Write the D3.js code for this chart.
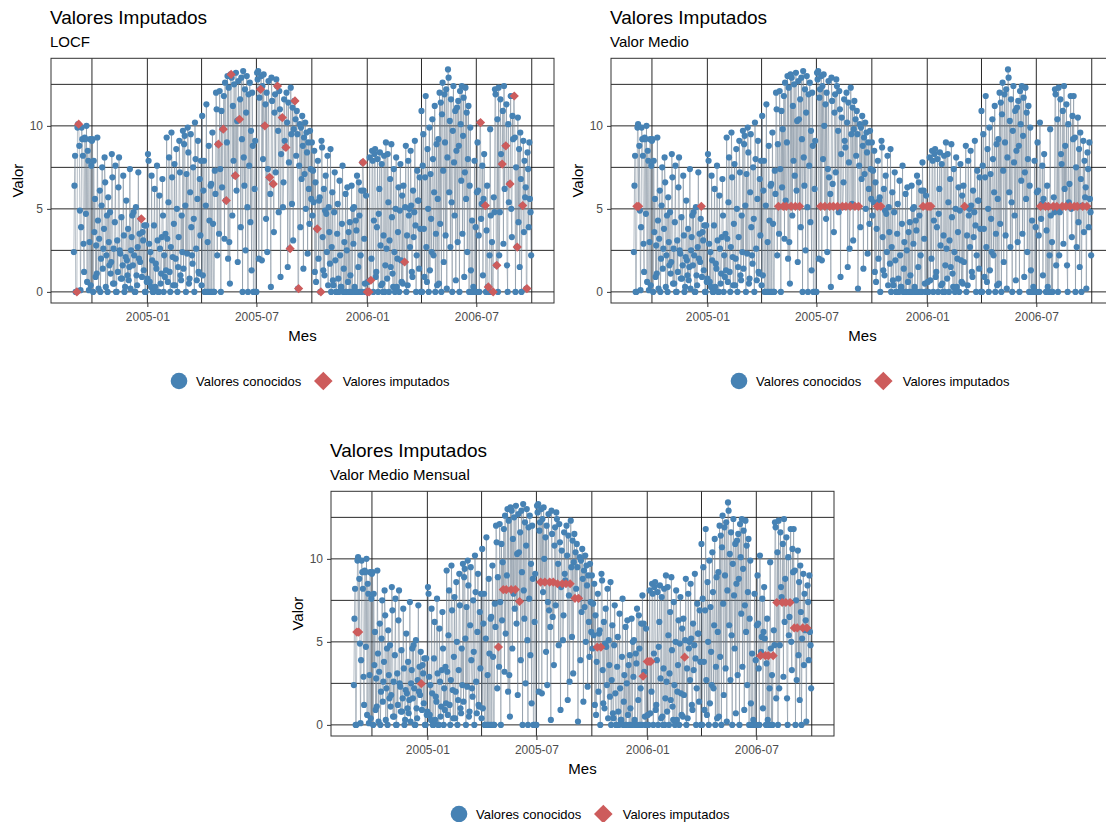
<!DOCTYPE html>
<html>
<head>
<meta charset="utf-8">
<script src="https://cdn.jsdelivr.net/npm/d3@7"></script>
<style>
  body { margin: 0; background: #fff; }
  svg { font-family: "Liberation Sans", Arial, sans-serif; }
</style>
</head>
<body>
<div id="chart"></div>
<script>
// serie diaria con huecos (null = valor faltante)
const fechaInicio = '2004-09-01'

const valores2004 = [
  // sep
  2.4, 6.4, 8.2, 0.0, 0.0, null, 9.9, 10.1, null, 8.8, 4.9, 0.1, 3.9, 9.9, 9.2, 8.2, 2.9, 1.2, 9.3, 9.2, 4.7, 10.0, 0.6, 8.5, 7.9, 0.1, 3.0, 9.2, 0.4, 7.6,
  // oct
  9.1, 9.2, 0.0, 7.9, 3.6, 5.6, 0.9, 2.8, 1.1, 9.3, 4.3, 0.2, 3.2, 6.1, 0.0, 2.0, 5.2, 7.5, 1.4, 2.6, 3.8, 8.1, 6.6, 0.3, 2.2, 4.6, 0.0, 5.7, 3.0, 1.6, 4.8,
  // nov
  1.1, 1.8, 8.3, 6.9, 0.5, 2.6, 0.5, 4.2, 7.6, 0.0, 0.0, 3.1, 1.2, 6.3, 8.1, 2.5, 2.3, 0.8, 4.5, 0.8, 1.6, 7.0, 3.4, 0.0, 0.3, 2.1, 5.5, 1.9, 1.0, 3.8,
  // dic
  0.7, 1.5, 7.4, 0.2, 2.5, 3.3, 4.6, 1.6, 4.8, 2.2, 0.0, 0.0, 5.1, 1.0, 0.4, 2.7, 7.2, 2.0, 3.5, 1.8, 4.4, null, 0.9, 3.6, 3.1, 1.3, 4.0, 0.0, 0.0, 4.0, 0.6
]

const valores2005 = [
  // ene
  0.8, 8.3, 7.9, 2.9, 0.6, 2.4, 0.3, 7.0, 1.9, 0.0, 0.0, 4.0, 6.2, 0.3, 1.7, 1.4, 7.6, 3.1, 0.0, 0.0, 5.8, 2.6, 0.5, 1.1, 3.3, 6.8, 4.6, 0.0, 2.2, 0.9, 3.5,
  // feb
  1.3, 9.3, 3.2, 0.6, 5.4, 8.1, 1.2, 0.0, 2.7, 9.6, 6.9, 2.1, 0.4, 4.1, 7.7, 0.4, 2.0, 8.6, 5.0, 0.0, 1.5, 3.3, 9.1, 7.2, 1.0, 0.7, 4.6, 2.4,
  // mar
  9.7, 1.4, 8.9, 9.4, 5.2, 0.0, 7.1, 2.3, 9.9, 8.4, 0.5, 0.8, 6.0, 9.5, 3.9, 2.2, 1.7, 7.5, 4.4, 0.0, 10.2, 8.0, 2.6, 0.7, 5.6, 9.1, 1.2, 1.1, 6.8, 3.4, 7.9,
  // abr
  0.4, 10.6, 1.0, 6.1, 7.9, 0.0, 0.0, 5.2, 11.3, 0.0, 3.0, 0.0, 8.8, 4.3, 0.0, 6.4, 6.5, 0.0, 9.6, 4.1, 0.0, 0.0, 7.3, 5.9, 12.0, 11.0, 2.2, 8.9, null, 3.5,
  // may
  12.1, 7.4, 0.0, 10.9, 6.3, 9.8, null, 11.8, 3.2, 12.6, 5.5, null, 9.0, 13.0, 2.0, 12.3, 3.0, 0.5, 13.1, null, 12.9, 4.6, 11.2, 7.9, 12.5, 7.0, null, 13.2, 6.1, 10.3, 1.8,
  // jun
  12.7, 10.4, null, 11.6, 3.9, 12.9, 9.2, 0.0, 13.3, 8.1, 6.4, 12.2, 2.5, 10.8, 13.0, 5.1, 0.0, 11.9, 7.6, 12.6, 4.2, 9.7, 1.3, 12.0, 8.8, 0.0, 0.0, 6.2, 9.1, 0.0,
  // jul
  0.0, 13.2, 12.8, 13.3, 2.0, 11.7, 12.2, null, 13.0, 1.9, 12.4, 8.0, 13.1, 10.0, null, 11.3, 4.4, 12.0, 2.4, 7.4, 12.7, 6.9, null, 5.9, 0.3, 12.9, 11.5, 6.5, null, 3.6, 10.8,
  // ago
  11.9, 7.2, 12.8, 12.4, null, 9.7, 4.8, 12.1, 11.0, 0.9, 8.3, 10.5, null, 5.1, 6.6, 11.6, 9.1, 8.7, null, 12.0, 10.2, 1.5, 11.4, 7.8, 2.6, null, 12.3, 9.5, 5.3, 11.1, 3.1,
  // sep
  9.8, 11.5, null, 10.4, 8.2, 10.9, 9.5, 0.2, null, 7.6, 10.1, 3.9, 9.9, 6.8, 10.6, 8.8, 1.4, 9.3, 7.1, 10.2, 5.0, 9.6, 8.4, 2.3, 9.0, 6.2, 4.1, 9.7, 7.4, 5.6,
  // oct
  9.0, 4.6, 7.3, 5.4, 8.5, 1.2, 6.6, 0.6, 3.8, null, 7.9, 2.0, 5.5, 5.7, 0.0, null, 9.1, 8.7, 3.3, 1.3, 6.2, 1.0, 4.9, 7.0, 4.7, 2.4, 8.2, 0.4, 5.1, 3.6, 1.7,
  // nov
  8.6, 0.0, 2.7, 6.0, 0.7, 0.4, 4.8, 7.2, 1.9, 0.0, 0.0, 3.5, 5.3, 0.8, 0.0, 6.7, 2.2, 0.3, 0.3, 4.1, 7.6, 0.0, 1.4, 3.0, 0.0, 5.9, 0.0, 2.5, 6.3, 0.6,
  // dic
  3.6, 0.0, 4.2, 1.0, 0.0, 6.4, 0.0, 5.0, 2.9, 5.1, 0.3, 0.0, 4.3, 3.7, 7.0, 0.0, 1.5, 6.6, 4.6, 0.0, 2.2, 6.1, 0.0, 7.8, null, 6.1, 3.2, 0.5, 0.0, 5.8, 0.0
]

const valores2006 = [
  // ene
  null, 0.6, 0.0, null, 8.1, 0.7, null, 2.0, 8.5, 7.9, 0.0, 4.3, 8.3, 8.6, 0.9, 1.2, 3.9, 8.0, 0.0, 4.7, 6.2, 8.4, 2.8, 0.4, 7.7, 0.5, 0.0, 3.4, 8.2, 0.0, 1.6,
  // feb
  9.0, 2.6, 0.8, 8.3, 5.4, 0.0, 3.1, 6.8, 1.5, 8.9, 4.5, 1.1, 0.3, 7.4, 2.4, 0.0, 5.0, 8.1, 0.3, 2.0, 3.6, 6.3, 0.0, 4.9, 7.7, 1.9, 0.6, 5.8,
  // mar
  0.5, 6.4, 1.8, null, 5.1, 8.8, 0.0, 3.4, 0.4, 7.9, 4.6, 5.0, 2.7, 8.5, 5.2, 1.2, 0.9, 6.1, 3.3, 4.8, 9.1, 4.0, 0.0, 2.2, 7.3, 5.5, 5.5, 1.4, 6.9, 3.8, 0.0,
  // abr
  10.9, 0.0, 7.6, 9.5, 3.8, 0.9, 6.9, 11.8, 2.7, 0.6, 8.6, 5.0, 0.0, 9.9, 1.3, 7.1, 4.4, 2.4, 10.4, 8.0, 2.2, 6.0, 11.2, 0.0, 3.5, 8.9, 0.4, 5.6, 9.2, 0.5,
  // may
  12.0, 4.1, 11.4, 0.0, 10.7, 12.6, 7.3, 1.8, 11.9, 9.0, 3.4, 12.2, 0.2, 8.1, 13.4, 12.9, 6.0, 10.3, 2.7, 11.6, 5.4, 0.0, 9.7, 12.4, 7.8, 4.6, 10.9, 0.7, 8.5, 11.1, 3.0,
  // jun
  11.5, 8.8, 0.0, 12.1, 10.1, 6.7, 12.4, 3.5, 9.4, 11.7, 0.9, 7.2, 12.3, 5.6, 10.8, 2.4, 8.0, 11.2, 0.0, 6.4, 9.9, 1.3, 0.0, 4.3, 0.0, 0.3, 0.0, 7.9, 0.0, 3.9,
  // jul
  0.0, 6.0, 9.0, 6.1, 3.4, 0.0, 10.2, null, 4.4, 5.3, 7.6, 1.0, 5.6, 8.3, 5.2, null, 0.0, 3.7, 6.4, 0.3, null, 0.0, 2.2, 9.8, 4.6, 0.0, 3.0, 0.0, null, 5.7, 4.8,
  // ago
  12.2, 11.9, 1.6, null, 10.4, 0.0, 12.3, 2.2, 4.8, 11.6, 8.3, 7.7, null, 10.9, 2.9, 12.4, 6.2, 8.8, null, 11.3, 1.6, 0.0, 10.1, 5.4, 6.5, null, 11.8, 5.0, 3.3, 10.6, 9.2,
  // sep
  11.8, null, 9.3, 0.0, 7.5, 2.7, null, 10.5, 4.2, 8.6, 1.5, 9.6, 6.8, 0.0, 5.2, null, 9.1, 3.6, 7.9, 5.7, 6.3, 0.2, null, 8.4, 7.4, 3.9, 9.0, 5.6, 4.8, 2.2
]

const metodos = ['LOCF', 'Valor Medio', 'Valor Medio Mensual']
const ticksX = ['2005-01', '2005-07', '2006-01', '2006-07']
const ticksY = [0, 5, 10]
const leyenda = ['Valores conocidos', 'Valores imputados']

const valores = valores2004.concat(valores2005, valores2006)
const inicio = d3.timeParse('%Y-%m-%d')(fechaInicio)
const fechas = valores.map((v, i) => d3.timeDay.offset(inicio, i))
const fmtMes = d3.timeFormat('%Y-%m')

function imputar (metodo) {
  if (metodo === 'LOCF') {
    let ultimo = null
    return valores.map(v => v === null ? ultimo : (ultimo = v))
  }
  if (metodo === 'Valor Medio') {
    let m = d3.mean(valores)
    return valores.map(v => v === null ? m : v)
  }
  // media del mes correspondiente
  let medias = d3.rollup(
    valores.map((v, i) => ({ v: v, mes: fmtMes(fechas[i]) })).filter(d => d.v !== null),
    g => d3.mean(g, d => d.v), d => d.mes)
  return valores.map((v, i) => v === null ? medias.get(fmtMes(fechas[i])) : v)
}

let cfg = {
  w: 1106,
  h: 822,
  left: 51,
  right: 554,
  top: 58.3,
  bottom: 303,
  offsets: [[0, 0], [560, 0], [280, 433]],
  azul: 'steelblue',
  rojo: 'indianred',
  linea: '#708090'
}

const svg = d3.select('#chart').append('svg')
  .attr('width', cfg.w)
  .attr('height', cfg.h)

// escalas comunes (expansion 5% como ggplot)
let ext = d3.extent(fechas)
let span = ext[1] - ext[0]
let x = d3.scaleTime()
  .domain([new Date(+ext[0] - span * 0.05), new Date(+ext[1] + span * 0.05)])
  .range([cfg.left, cfg.right])
let yMax = d3.max(valores)
let y = d3.scaleLinear()
  .domain([-yMax * 0.05, yMax * 1.05])
  .range([cfg.bottom, cfg.top])

function diamante (r) {
  return 'M0,' + (-r) + 'L' + r + ',0L0,' + r + 'L' + (-r) + ',0Z'
}

metodos.forEach(function (metodo, p) {
  let serie = imputar(metodo)
  let datos = serie.map((v, i) => ({ fecha: fechas[i], valor: v, imputado: valores[i] === null }))
  let g = svg.append('g')
    .attr('transform', 'translate(' + cfg.offsets[p][0] + ',' + cfg.offsets[p][1] + ')')

  g.append('text').attr('x', 50).attr('y', 24)
    .style('font-size', '19px').text('Valores Imputados')
  g.append('text').attr('x', 50).attr('y', 46.5)
    .style('font-size', '15px').text(metodo)

  // rejilla: cada 3 meses y cada 2.5 unidades
  let mesesGrid = d3.timeMonth.every(3).range(x.domain()[0], x.domain()[1])
  g.selectAll('.vgrid').data(mesesGrid).enter().append('line')
    .attr('x1', d => x(d)).attr('x2', d => x(d))
    .attr('y1', cfg.top).attr('y2', cfg.bottom)
    .style('stroke', '#111').style('stroke-width', '0.9px')
  g.selectAll('.hgrid').data(d3.range(0, yMax, 2.5)).enter().append('line')
    .attr('x1', cfg.left).attr('x2', cfg.right)
    .attr('y1', d => y(d)).attr('y2', d => y(d))
    .style('stroke', '#111').style('stroke-width', '0.9px')

  g.append('path')
    .datum(datos)
    .attr('d', d3.line().x(d => x(d.fecha)).y(d => y(d.valor)))
    .style('fill', 'none')
    .style('stroke', cfg.linea)
    .style('stroke-opacity', 0.55)
    .style('stroke-width', '0.9px')

  g.selectAll('.conocido').data(datos.filter(d => !d.imputado)).enter()
    .append('circle')
    .attr('cx', d => x(d.fecha))
    .attr('cy', d => y(d.valor))
    .attr('r', 3.1)
    .style('fill', cfg.azul)

  g.selectAll('.imputado').data(datos.filter(d => d.imputado)).enter()
    .append('path')
    .attr('d', diamante(4.6))
    .attr('transform', d => 'translate(' + x(d.fecha) + ',' + y(d.valor) + ')')
    .style('fill', cfg.rojo)

  g.append('rect')
    .attr('x', cfg.left).attr('y', cfg.top)
    .attr('width', cfg.right - cfg.left).attr('height', cfg.bottom - cfg.top)
    .style('fill', 'none').style('stroke', '#333').style('stroke-width', '1px')

  // ejes
  let parseMes = d3.timeParse('%Y-%m')
  let ax = g.append('g')
    .attr('transform', 'translate(0,' + cfg.bottom + ')')
    .call(d3.axisBottom(x).tickValues(ticksX.map(parseMes)).tickFormat(fmtMes).tickSize(4).tickPadding(5))
  let ay = g.append('g')
    .attr('transform', 'translate(' + cfg.left + ',0)')
    .call(d3.axisLeft(y).tickValues(ticksY).tickSize(4).tickPadding(4))
  ;[ax, ay].forEach(a => {
    a.select('.domain').remove()
    a.selectAll('line').style('stroke', '#333')
    a.selectAll('text').style('font-size', '12px').style('fill', '#4d4d4d')
      .style('font-family', '"Liberation Sans", Arial, sans-serif')
  })

  g.append('text')
    .attr('x', (cfg.left + cfg.right) / 2).attr('y', 341)
    .attr('text-anchor', 'middle').style('font-size', '15px').text('Mes')
  g.append('text')
    .attr('transform', 'translate(23,' + (cfg.top + cfg.bottom) / 2 + ') rotate(-90)')
    .attr('text-anchor', 'middle').style('font-size', '15px').text('Valor')

  // leyenda
  let ley = g.append('g').attr('transform', 'translate(0,381)')
  ley.append('circle').attr('cx', 179).attr('cy', 0).attr('r', 8.3).style('fill', cfg.azul)
  ley.append('text').attr('x', 196).attr('y', 4.5).style('font-size', '13px').text(leyenda[0])
  ley.append('path').attr('d', diamante(9.3)).attr('transform', 'translate(323.3,0)').style('fill', cfg.rojo)
  ley.append('text').attr('x', 342.7).attr('y', 4.5).style('font-size', '13px').text(leyenda[1])
})
</script>
</body>
</html>
